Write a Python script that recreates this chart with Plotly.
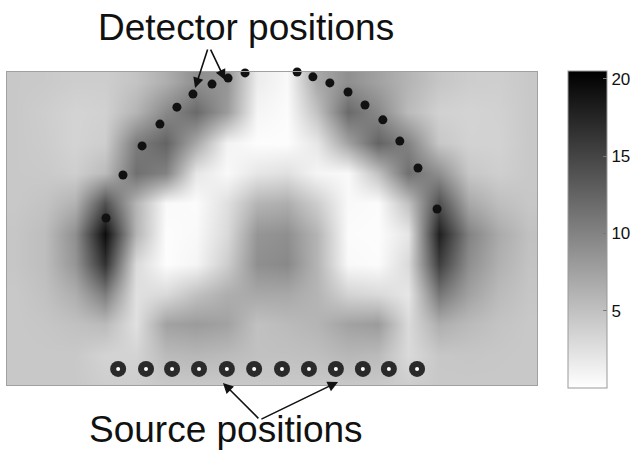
import plotly.graph_objects as go

# Grid of the sensitivity map (cm)
grid_x = [-8.5, -7.5, -6.5, -5.5, -4.5, -3.5, -2.5, -1.5, -0.5,
          0.5, 1.5, 2.5, 3.5, 4.5, 5.5, 6.5, 7.5, 8.5]
grid_y = [0, 1, 2, 3, 4, 5, 6, 7, 8, 9, 10]

# rows from bottom (y=0) to top (y=10)
sensitivity = [
    [4.4, 4.4, 4.4, 4.0, 4.0, 4.4, 4.4, 4.4, 4.4, 4.4, 4.4, 4.4, 4.4, 4.0, 4.4, 4.4, 4.4, 4.4],
    [4.4, 4.4, 4.4, 3.5, 3.5, 5.5, 5.8, 5.5, 5.0, 5.0, 5.2, 5.8, 5.5, 3.0, 4.5, 4.6, 4.5, 4.4],
    [4.4, 4.6, 5.0, 5.5, 2.5, 7.5, 8.0, 7.5, 5.0, 5.5, 6.0, 7.5, 8.0, 3.0, 6.5, 5.5, 4.8, 4.4],
    [4.4, 5.0, 6.5, 10.5, 2.5, 3.0, 5.0, 6.5, 7.0, 7.0, 6.0, 3.5, 3.0, 2.0, 11.0, 7.5, 5.5, 4.6],
    [4.6, 5.3, 8.5, 16.5, 3.0, 0.2, 0.8, 4.0, 9.0, 9.5, 6.0, 0.5, 0.3, 3.0, 15.5, 9.0, 6.3, 4.8],
    [4.6, 5.3, 9.0, 19.5, 6.0, 0.2, 0.5, 3.0, 8.5, 9.0, 6.0, 0.3, 0.2, 2.0, 18.0, 10.0, 6.8, 5.0],
    [4.4, 4.8, 6.2, 14.0, 6.0, 0.5, 0.3, 2.5, 6.0, 6.5, 4.0, 0.5, 0.3, 5.0, 14.0, 7.0, 5.2, 4.5],
    [4.4, 4.3, 3.9, 5.5, 11.5, 10.0, 2.0, 0.5, 2.0, 2.5, 0.8, 0.5, 5.0, 11.5, 9.0, 4.5, 3.9, 4.4],
    [4.4, 4.1, 3.5, 4.0, 10.5, 12.5, 7.0, 1.0, 0.2, 0.2, 2.0, 7.5, 12.5, 10.0, 4.5, 3.6, 3.6, 4.4],
    [4.4, 4.0, 3.5, 3.7, 6.0, 9.5, 12.0, 8.0, 0.8, 0.3, 5.0, 12.0, 9.5, 5.5, 3.7, 3.5, 3.7, 4.4],
    [4.4, 4.3, 4.0, 4.0, 4.8, 6.5, 9.0, 8.5, 1.5, 0.5, 7.0, 9.0, 7.5, 6.0, 4.6, 4.0, 3.9, 4.4],
]

# Detector positions (cm)
det_x = [-5.48, -4.92, -4.29, -3.70, -3.14, -2.61, -1.98, -1.45, -0.89,
         0.83, 1.35, 1.91, 2.51, 3.07, 3.66, 4.22, 4.82, 5.45]
det_y = [5.51, 6.93, 7.89, 8.61, 9.17, 9.60, 9.93, 10.13, 10.30,
         10.33, 10.17, 9.97, 9.67, 9.24, 8.75, 8.05, 7.16, 5.81]

# Source positions (cm)
src_x = [-5.08, -4.16, -3.30, -2.41, -1.49, -0.59, 0.33, 1.22, 2.11, 3.00, 3.86, 4.79]
src_y = [0.53] * 12

cbar_ticks = [5, 10, 15, 20]

fig = go.Figure()
fig.add_trace(go.Heatmap(
    x=grid_x, y=grid_y, z=sensitivity, zsmooth='best',
    zmin=0, zmax=20.5,
    colorscale=[[0, '#ffffff'], [1, '#000000']],
    colorbar=dict(
        x=1.0585, xanchor='left', xpad=0, ypad=0,
        y=0.4968, yanchor='middle',
        len=1.0128, lenmode='fraction',
        thickness=39, thicknessmode='pixels',
        outlinewidth=1, outlinecolor='#999999',
        tickvals=cbar_ticks, ticks='inside', ticklen=4, tickcolor='#777777',
        tickfont=dict(family='Arial, Liberation Sans', size=17, color='#111111'),
    ),
    hoverinfo='skip',
))
fig.add_trace(go.Scatter(
    x=det_x, y=det_y, mode='markers', cliponaxis=False,
    marker=dict(size=9, color='#111111'),
))
fig.add_trace(go.Scatter(
    x=src_x, y=src_y, mode='markers', cliponaxis=False,
    marker=dict(size=16, color='#2a2a2a'),
))
fig.add_trace(go.Scatter(
    x=src_x, y=src_y, mode='markers', cliponaxis=False,
    marker=dict(size=4, color='#ffffff'),
))

font_big = dict(family='Arial, Liberation Sans', size=37, color='#111111')
annotations = [
    dict(text='Detector positions', x=0.451, y=1.1406, xref='paper', yref='paper',
         xanchor='center', yanchor='middle', showarrow=False, font=font_big),
    dict(text='Source positions', x=0.413, y=-0.1406, xref='paper', yref='paper',
         xanchor='center', yanchor='middle', showarrow=False, font=font_big),
]
arrows = [
    ((-2.54, 9.80), (-2.11, 11.12)),
    ((-1.55, 10.07), (-2.05, 11.12)),
    ((-1.62, 0.07), (-0.40, -1.15)),
    ((2.18, 0.10), (-0.40, -1.15)),
]
for (tx, ty), (sx, sy) in arrows:
    annotations.append(dict(
        text='', x=tx, y=ty, xref='x', yref='y', ax=sx, ay=sy, axref='x', ayref='y',
        showarrow=True, arrowhead=2, arrowsize=1.3, arrowwidth=1.6,
        arrowcolor='#111111', standoff=0, startstandoff=0,
    ))

fig.update_layout(
    width=632, height=452,
    margin=dict(l=7, r=95, t=72, b=67, autoexpand=False),
    paper_bgcolor='white', plot_bgcolor='#c8c8c8',
    showlegend=False,
    annotations=annotations,
    xaxis=dict(range=[-8.75, 8.75], showgrid=False, zeroline=False, showticklabels=False,
               ticks='', showline=True, mirror=True, linecolor='#a0a0a0', linewidth=1),
    yaxis=dict(range=[0, 10.33], showgrid=False, zeroline=False, showticklabels=False,
               ticks='', showline=True, mirror=True, linecolor='#a0a0a0', linewidth=1),
)

fig.write_html('out.html')
